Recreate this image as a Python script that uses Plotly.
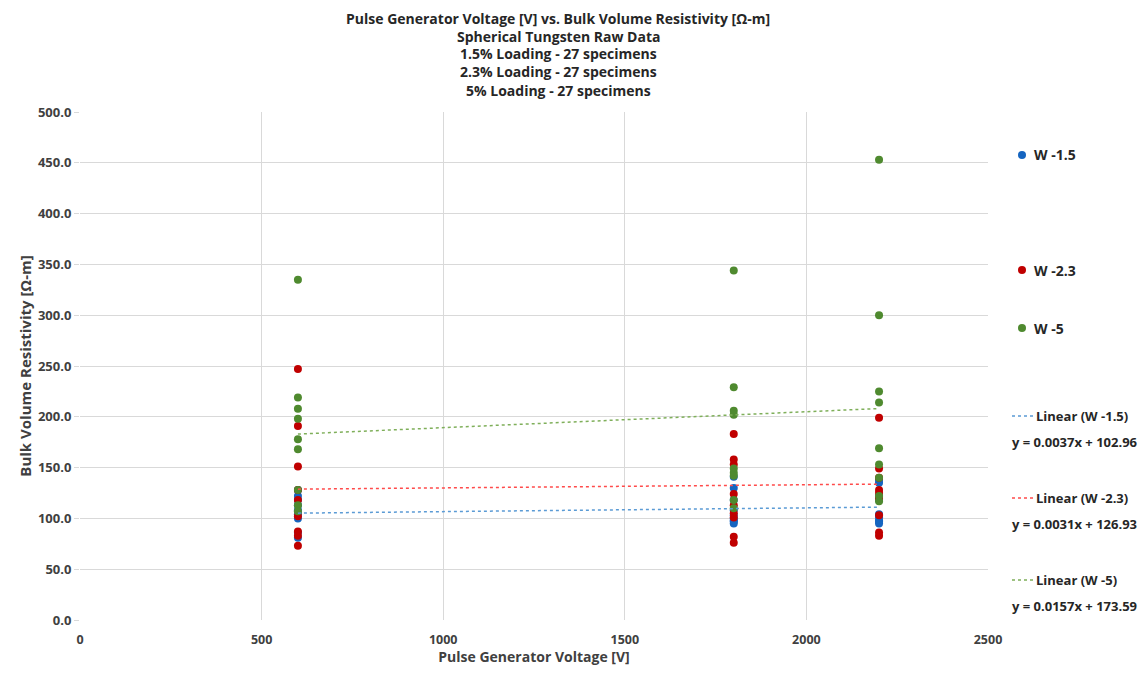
import plotly.graph_objects as go

# ---------------- data ----------------
voltages = [600, 1800, 2200]

w15_600 = [128, 122, 118, 113, 108, 104, 100, 86, 81]
w15_1800 = [141, 130, 118, 108, 103, 100, 98, 97, 95]
w15_2200 = [138, 135, 122, 118, 104, 101, 98, 97, 95]

w23_600 = [247, 191, 151, 128, 118, 102, 87, 83, 73]
w23_1800 = [183, 158, 153, 124, 113, 105, 101, 82, 76]
w23_2200 = [199, 149, 140, 128, 125, 120, 103, 86, 83]

w5_600 = [335, 219, 208, 198, 178, 168, 128, 113, 107]
w5_1800 = [344, 229, 206, 202, 149, 145, 142, 118, 110]
w5_2200 = [453, 300, 225, 214, 169, 153, 140, 122, 117]

series_names = ["W -1.5", "W -2.3", "W -5"]
trend_slopes = [0.0037, 0.0031, 0.0157]
trend_intercepts = [102.96, 126.93, 173.59]
trend_labels = ["y = 0.0037x + 102.96", "y = 0.0031x + 126.93", "y = 0.0157x + 173.59"]

title_lines = [
    "Pulse Generator Voltage [V] vs. Bulk Volume Resistivity [Ω-m]",
    "Spherical Tungsten Raw Data",
    "1.5% Loading - 27 specimens",
    "2.3% Loading - 27 specimens",
    "5% Loading - 27 specimens",
]
x_ticks = [0, 500, 1000, 1500, 2000, 2500]
y_ticks = [0, 50, 100, 150, 200, 250, 300, 350, 400, 450, 500]

# ---------------- style ----------------
marker_colors = ["#1565C0", "#C00000", "#4F8A2F"]
trend_colors = ["#5B9BD5", "#FF4B4B", "#7FAF5A"]
FONT = "Open Sans"
TXT = "#404040"
DARK = "#262626"

OFF = 8  # page body margin
W, H = 1146 - 2 * OFF, 674 - 2 * OFF
# plot area in page pixels: x 80..988, y 112..620
L = 80 - OFF
T = 112 - OFF
R = W - (988 - OFF)
B = H - (620 - OFF)
PW, PH = W - L - R, H - T - B


def px_x(p):
    # page pixel -> paper x
    return (p - OFF - L) / PW


def px_y(p):
    # page pixel -> paper y
    return (H - B - (p - OFF)) / PH


groups = [
    (w15_600, w15_1800, w15_2200),
    (w23_600, w23_1800, w23_2200),
    (w5_600, w5_1800, w5_2200),
]

fig = go.Figure()

for i, g in enumerate(groups):
    xs, ys = [], []
    for v, vals in zip(voltages, g):
        xs += [v] * len(vals)
        ys += vals
    fig.add_trace(go.Scatter(
        x=xs, y=ys, mode="markers", name=series_names[i],
        marker=dict(color=marker_colors[i], size=8, line=dict(width=0)),
        showlegend=False,
    ))

for i in range(3):
    x0, x1 = voltages[0], voltages[-1]
    fig.add_trace(go.Scatter(
        x=[x0, x1],
        y=[trend_slopes[i] * x0 + trend_intercepts[i], trend_slopes[i] * x1 + trend_intercepts[i]],
        mode="lines", line=dict(color=trend_colors[i], width=1.5, dash="dot"),
        showlegend=False, hoverinfo="skip",
    ))

annotations = []
shapes = []

# title lines
for k, line in enumerate(title_lines):
    annotations.append(dict(
        text=line, xref="paper", yref="paper",
        x=px_x(558), y=px_y(18 + 18 * k), xanchor="center", yanchor="middle",
        showarrow=False, font=dict(family=FONT, size=14, color=DARK, weight="bold"),
    ))

# manual legend: markers
marker_rows = [155, 270, 328]
for i, py in enumerate(marker_rows):
    shapes.append(dict(
        type="circle", xref="paper", yref="paper",
        x0=px_x(1018), x1=px_x(1026), y0=px_y(py - 4), y1=px_y(py + 4),
        fillcolor=marker_colors[i], line=dict(width=0),
    ))
    annotations.append(dict(
        text=series_names[i], xref="paper", yref="paper",
        x=px_x(1032), y=px_y(py), xanchor="left", yanchor="middle",
        showarrow=False, font=dict(family=FONT, size=14, color=DARK, weight="bold"),
    ))

# manual legend: trendlines
trend_rows = [416, 498, 580]
for i, py in enumerate(trend_rows):
    shapes.append(dict(
        type="line", xref="paper", yref="paper",
        x0=px_x(1012), x1=px_x(1034), y0=px_y(py), y1=px_y(py),
        line=dict(color=trend_colors[i], width=1.5, dash="dot"),
    ))
    annotations.append(dict(
        text="Linear (" + series_names[i] + ")", xref="paper", yref="paper",
        x=px_x(1034), y=px_y(py), xanchor="left", yanchor="middle",
        showarrow=False, font=dict(family=FONT, size=13, color=DARK, weight="bold"),
    ))
    annotations.append(dict(
        text=trend_labels[i], xref="paper", yref="paper",
        x=px_x(1010), y=px_y(py + 26), xanchor="left", yanchor="middle",
        showarrow=False, font=dict(family=FONT, size=13, color=DARK, weight="bold"),
    ))

fig.update_layout(
    width=W, height=H,
    margin=dict(l=L, r=R, t=T, b=B, autoexpand=False),
    paper_bgcolor="white", plot_bgcolor="white",
    font=dict(family=FONT, size=13, color=TXT),
    annotations=annotations, shapes=shapes,
    showlegend=False,
)

fig.update_xaxes(
    range=[0, 2500], tickvals=x_ticks, ticktext=[str(v) for v in x_ticks],
    showgrid=True, gridcolor="#D9D9D9", gridwidth=1, zeroline=False,
    showline=False, ticks="", ticklabelstandoff=10,
    tickfont=dict(family=FONT, size=12.5, color=TXT, weight="bold"),
    title=dict(text="Pulse Generator Voltage [V]", standoff=6,
               font=dict(family=FONT, size=14, color=TXT, weight="bold")),
)
fig.update_yaxes(
    range=[0, 500], tickvals=y_ticks, ticktext=[f"{v:.1f}" for v in y_ticks],
    showgrid=True, gridcolor="#D9D9D9", gridwidth=1, zeroline=False,
    showline=False, ticks="outside", ticklen=5, tickcolor="#D9D9D9",
    tickfont=dict(family=FONT, size=13, color=TXT, weight="bold"),
    title=dict(text="Bulk Volume Resistivity [Ω-m]", standoff=2,
               font=dict(family=FONT, size=15, color=TXT, weight="bold")),
)

fig.write_html("out.html")
